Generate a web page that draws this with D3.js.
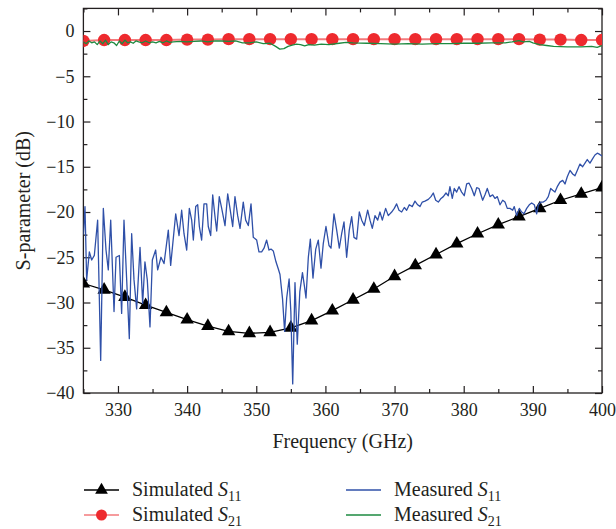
<!DOCTYPE html>
<html><head><meta charset="utf-8">
<script src="https://cdn.jsdelivr.net/npm/d3@7"></script>
<style>
body{margin:0;background:#fff}
svg{display:block}
text{font-family:"Liberation Serif","DejaVu Serif",serif;fill:#231f20}
</style>
</head><body>
<svg id="c" width="616" height="529"></svg>
<script>
// ---------------- data ----------------
const simFreq = [325,328,331,334,337,340,343,346,349,352,355,358,361,364,367,370,373,376,379,382,385,388,391,394,397,400];
const simS11 = [-27.9,-28.6,-29.4,-30.3,-31.1,-31.9,-32.6,-33.2,-33.4,-33.3,-32.8,-32.0,-30.9,-29.7,-28.5,-27.1,-25.9,-24.7,-23.5,-22.4,-21.4,-20.5,-19.6,-18.7,-18.0,-17.3];
const simS21 = [-1.1,-1.0,-1.0,-1.0,-1.0,-0.95,-0.95,-0.9,-0.9,-0.9,-0.9,-0.9,-0.9,-0.9,-0.9,-0.9,-0.9,-0.9,-0.9,-0.9,-0.9,-0.9,-0.95,-0.95,-1.0,-1.0];
const measS11 = [[325.0,-22.5],[325.23,-19.4],[325.47,-27.5],[325.86,-24.4],[326.2,-25.3],[326.58,-24.8],[327.06,-20.9],[327.5,-36.4],[327.88,-19.6],[328.27,-24.2],[328.6,-26.4],[328.95,-20.9],[329.43,-31.0],[329.72,-25.0],[330.2,-24.8],[330.53,-31.2],[330.87,-20.9],[331.26,-27.5],[331.64,-34.0],[331.98,-22.4],[332.32,-27.5],[332.7,-30.7],[333.19,-23.9],[333.57,-30.1],[333.9,-25.5],[334.24,-27.5],[334.63,-32.7],[334.97,-25.3],[335.45,-24.2],[335.74,-26.4],[336.22,-25.0],[336.66,-25.7],[337.28,-22.0],[337.62,-25.9],[338.35,-20.2],[338.83,-22.6],[339.21,-19.8],[339.55,-22.4],[339.94,-24.2],[340.32,-19.6],[340.66,-20.9],[340.9,-23.1],[341.24,-19.4],[341.53,-19.2],[341.77,-21.6],[342.1,-23.1],[342.44,-19.1],[342.83,-19.1],[343.06,-21.6],[343.41,-22.6],[343.7,-18.1],[344.03,-20.5],[344.28,-22.1],[344.65,-18.3],[345.0,-19.6],[345.48,-21.5],[345.87,-18.0],[346.2,-19.6],[346.59,-21.6],[346.92,-18.3],[347.31,-20.4],[347.65,-21.8],[348.12,-18.9],[348.47,-20.9],[348.85,-21.5],[349.24,-19.1],[349.57,-22.8],[350.06,-23.1],[350.39,-24.4],[350.78,-24.4],[351.12,-24.0],[351.5,-23.1],[351.84,-24.2],[352.13,-24.1],[352.46,-24.3],[352.85,-25.5],[353.19,-26.3],[353.43,-26.9],[353.8,-29.6],[354.1,-33.2],[354.4,-29.5],[354.75,-27.4],[355.0,-31.0],[355.27,-39.0],[355.6,-27.8],[355.93,-34.6],[356.3,-28.8],[356.68,-26.7],[356.95,-28.1],[357.19,-29.5],[357.53,-25.0],[357.82,-23.0],[358.2,-27.3],[358.6,-24.1],[358.97,-23.1],[359.36,-26.2],[359.69,-23.5],[360.08,-21.6],[360.52,-23.7],[360.81,-24.0],[361.24,-20.2],[361.63,-22.0],[362.01,-24.0],[362.35,-22.4],[362.69,-21.1],[363.07,-25.0],[363.45,-22.0],[363.8,-20.5],[364.13,-22.8],[364.52,-23.0],[364.9,-20.0],[365.25,-20.9],[365.62,-21.5],[366.11,-19.8],[366.45,-20.9],[366.78,-21.8],[367.17,-20.4],[367.56,-20.9],[367.89,-20.0],[368.23,-20.9],[368.71,-19.6],[369.09,-20.4],[369.58,-20.0],[369.96,-19.6],[370.3,-19.1],[370.64,-19.8],[371.03,-20.0],[371.41,-19.5],[371.75,-19.8],[372.13,-19.2],[372.57,-19.4],[372.95,-18.8],[373.34,-19.2],[373.68,-19.4],[374.01,-18.9],[374.4,-18.8],[374.88,-18.6],[375.27,-18.3],[375.6,-17.9],[375.95,-18.7],[376.33,-18.9],[376.72,-18.5],[377.05,-18.3],[377.44,-17.9],[377.77,-18.2],[378.01,-17.2],[378.35,-18.5],[378.64,-17.4],[378.98,-17.8],[379.32,-17.2],[379.7,-17.8],[380.08,-18.2],[380.43,-16.9],[380.76,-16.8],[381.15,-17.4],[381.53,-18.2],[381.88,-17.3],[382.21,-17.4],[382.74,-18.7],[383.08,-18.1],[383.41,-17.4],[383.8,-18.3],[384.19,-18.1],[384.52,-18.5],[384.86,-18.3],[385.25,-19.2],[385.64,-18.7],[385.97,-18.9],[386.3,-19.6],[386.69,-19.6],[387.08,-19.8],[387.31,-19.4],[387.66,-20.4],[388.04,-19.6],[388.38,-20.0],[388.72,-20.2],[389.11,-19.6],[389.48,-19.2],[389.83,-19.0],[390.21,-19.2],[390.55,-20.2],[390.79,-19.2],[391.18,-18.9],[391.51,-18.9],[391.9,-18.7],[392.23,-18.3],[392.58,-17.4],[392.87,-17.6],[393.2,-17.8],[393.53,-17.2],[393.92,-16.7],[394.31,-16.5],[394.65,-16.9],[394.98,-16.1],[395.37,-15.4],[395.76,-15.8],[396.09,-16.0],[396.42,-15.4],[396.81,-14.7],[397.2,-15.0],[397.54,-14.6],[397.87,-14.2],[398.26,-14.6],[398.65,-14.1],[398.98,-13.7],[399.32,-13.5],[399.6,-13.6],[400.0,-13.8]];
const measS21 = [[325,-1.2],[325.4,-1.4],[325.8,-1.1],[326.2,-1.3],[326.6,-1.2],[327,-1.5],[327.4,-1.1],[327.8,-1.4],[328.2,-1.0],[328.6,-1.5],[329,-1.2],[329.4,-1.3],[329.8,-1.6],[330.2,-1.1],[330.6,-1.4],[331,-1.0],[331.4,-1.3],[331.8,-1.2],[332.2,-1.35],[332.6,-1.1],[333,-1.2],[333.5,-1.3],[334,-1.1],[334.5,-1.3],[335,-1.2],[335.5,-1.3],[336,-1.15],[336.5,-1.3],[337,-1.1],[337.5,-1.25],[338,-1.2],[339,-1.15],[340,-1.2],[341,-1.15],[342,-1.1],[343,-1.2],[344,-1.1],[345,-1.1],[346,-1.15],[347,-1.1],[348,-1.3],[349,-1.3],[350,-1.2],[351,-1.4],[352,-1.35],[352.8,-1.7],[353.4,-2.0],[354,-1.95],[354.6,-1.7],[355.2,-1.55],[355.8,-1.45],[356.4,-1.5],[357,-1.65],[357.6,-1.5],[358.4,-1.55],[359.4,-1.45],[360.5,-1.5],[362,-1.35],[363,-1.25],[364,-1.3],[366,-1.35],[368,-1.4],[370,-1.45],[372,-1.4],[374,-1.45],[376,-1.4],[378,-1.4],[380,-1.35],[382,-1.35],[384,-1.3],[386,-1.3],[387,-1.2],[388,-1.05],[388.6,-1.2],[389.5,-1.15],[390,-1.3],[391,-1.5],[392,-1.6],[393,-1.7],[395,-1.75],[397,-1.75],[398.5,-1.7],[399.3,-1.8],[400,-1.6]];
const xTicks = [330,340,350,360,370,380,390,400];
const xMinor = [325,335,345,355,365,375,385,395];
const yTicks = [0,-5,-10,-15,-20,-25,-30,-35,-40];
const yMinor = [2.5,-2.5,-7.5,-12.5,-17.5,-22.5,-27.5,-32.5,-37.5];

// ---------------- layout ----------------
const L=83.4,R=602,T=8.4,B=393;
const x=d3.scaleLinear().domain([325,400]).range([L,R]);
const y=d3.scaleLinear().domain([-40,2.5]).range([B,T]);
const svg=d3.select("#c");
const fmt=d=>(d<0?"\u2212":"")+Math.abs(d);

svg.append("defs").append("clipPath").attr("id","clip")
  .append("rect").attr("x",L).attr("y",T).attr("width",R-L).attr("height",B-T);

function axisStyle(g){
  g.select(".domain").remove();
  g.selectAll("line").attr("stroke","#231f20").attr("stroke-width",1.2);
  g.selectAll("text").attr("font-size",18).attr("fill","#231f20");
}
const MJ=7, MN=4;
svg.append("g").attr("transform",`translate(0,${B})`)
  .call(d3.axisBottom(x).tickValues(xTicks).tickSize(-MJ).tickPadding(10).tickFormat(d3.format("d"))).call(axisStyle);
svg.append("g").attr("transform",`translate(0,${B})`)
  .call(d3.axisBottom(x).tickValues(xMinor).tickSize(-MN).tickFormat("")).call(axisStyle);
svg.append("g").attr("transform",`translate(0,${T})`)
  .call(d3.axisTop(x).tickValues(xTicks).tickSize(-MJ).tickFormat("")).call(axisStyle);
svg.append("g").attr("transform",`translate(0,${T})`)
  .call(d3.axisTop(x).tickValues(xMinor).tickSize(-MN).tickFormat("")).call(axisStyle);
svg.append("g").attr("transform",`translate(${L},0)`)
  .call(d3.axisLeft(y).tickValues(yTicks).tickSize(-MJ).tickPadding(9).tickFormat(fmt)).call(axisStyle);
svg.append("g").attr("transform",`translate(${L},0)`)
  .call(d3.axisLeft(y).tickValues(yMinor).tickSize(-MN).tickFormat("")).call(axisStyle);
svg.append("g").attr("transform",`translate(${R},0)`)
  .call(d3.axisRight(y).tickValues(yTicks).tickSize(-MJ).tickFormat("")).call(axisStyle);
svg.append("g").attr("transform",`translate(${R},0)`)
  .call(d3.axisRight(y).tickValues(yMinor).tickSize(-MN).tickFormat("")).call(axisStyle);
svg.selectAll(".tick text").style("font-family","'Liberation Serif','DejaVu Serif',serif");

svg.append("rect").attr("x",L).attr("y",T).attr("width",R-L).attr("height",B-T)
  .attr("fill","none").attr("stroke","#231f20").attr("stroke-width",1.3);

// ---------------- series ----------------
const plot=svg.append("g").attr("clip-path","url(#clip)");
const line=d3.line().x(d=>x(d[0])).y(d=>y(d[1]));
const simA=simFreq.map((f,i)=>[f,simS11[i]]);
const simB=simFreq.map((f,i)=>[f,simS21[i]]);
const BLACK="#000", RED="#ee2a2e", REDL="#f37a7c", BLUE="#2f50a8", GREEN="#1d8a40";

plot.append("path").datum(simA).attr("d",line).attr("fill","none").attr("stroke",BLACK).attr("stroke-width",1.3);
const tri=d3.symbol().type(d3.symbolTriangle).size(78);
plot.selectAll(".tri").data(simA).join("path").attr("d",tri)
  .attr("transform",d=>`translate(${x(d[0])},${y(d[1])})`).attr("fill",BLACK);

plot.append("path").datum(simB).attr("d",line).attr("fill","none").attr("stroke",REDL).attr("stroke-width",2);
plot.selectAll(".cir").data(simB).join("circle").attr("cx",d=>x(d[0])).attr("cy",d=>y(d[1])).attr("r",6.2).attr("fill",RED);

plot.append("path").datum(measS11).attr("d",line).attr("fill","none").attr("stroke",BLUE).attr("stroke-width",1.3).attr("stroke-linejoin","round");
plot.append("path").datum(measS21).attr("d",line).attr("fill","none").attr("stroke",GREEN).attr("stroke-width",1.3).attr("stroke-linejoin","round");

// ---------------- titles ----------------
svg.append("text").attr("x",(L+R)/2).attr("y",448).attr("text-anchor","middle").attr("font-size",20).text("Frequency (GHz)");
svg.append("text").attr("transform",`translate(30,${(T+B)/2}) rotate(-90)`).attr("text-anchor","middle").attr("font-size",20).text("S-parameter (dB)");

// ---------------- legend ----------------
const legend=[
  {name:"Simulated ",sub:"11",color:BLACK,mark:"tri",x:84,y:490},
  {name:"Simulated ",sub:"21",color:RED,line:REDL,mark:"cir",x:84,y:515},
  {name:"Measured ",sub:"11",color:BLUE,mark:null,x:346,y:490},
  {name:"Measured ",sub:"21",color:GREEN,mark:null,x:346,y:515}
];
legend.forEach(d=>{
  const g=svg.append("g");
  g.append("line").attr("x1",d.x).attr("x2",d.x+35).attr("y1",d.y).attr("y2",d.y)
    .attr("stroke",d.line||d.color).attr("stroke-width",d.mark?1.5:1.3);
  if(d.mark==="tri") g.append("path").attr("d",d3.symbol().type(d3.symbolTriangle).size(70)()).attr("transform",`translate(${d.x+17.5},${d.y})`).attr("fill",d.color);
  if(d.mark==="cir") g.append("circle").attr("cx",d.x+17.5).attr("cy",d.y).attr("r",5.5).attr("fill",d.color);
  const t=g.append("text").attr("x",d.x+48).attr("y",d.y+6).attr("font-size",20);
  t.append("tspan").text(d.name);
  t.append("tspan").attr("font-style","italic").text("S");
  t.append("tspan").attr("font-size",14).attr("dy",5).text(d.sub);
});
</script>
</body></html>
